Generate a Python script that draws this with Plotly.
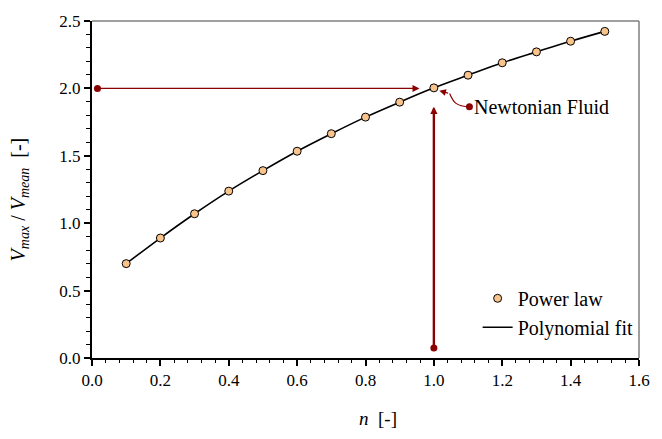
import plotly.graph_objects as go

# data
n_values = [0.1, 0.2, 0.3, 0.4, 0.5, 0.6, 0.7, 0.8, 0.9, 1.0, 1.1, 1.2, 1.3, 1.4, 1.5]
v_ratio = [0.70, 0.89, 1.07, 1.238, 1.39, 1.534, 1.664, 1.787, 1.898, 2.004, 2.098, 2.19, 2.271, 2.35, 2.423]

# annotation anchors (data coordinates)
h_arrow_tail = (0.016, 2.0)
h_arrow_head = (0.958, 2.0)
v_arrow_tail = (1.0, 0.075)
v_arrow_head = (1.0, 1.864)
newton_dot = (1.104, 1.864)
newton_head = (1.016, 1.982)
newton_label = "Newtonian Fluid"
x_title = "<i>n</i>&nbsp; [-]"
y_title = "<i>V</i><sub><i>max</i></sub> / <i>V</i><sub><i>mean</i></sub>&nbsp; [-]"

DARKRED = "#8B0000"
FONT = "Liberation Serif"

fig = go.Figure()

fig.add_trace(go.Scatter(
    x=n_values, y=v_ratio, mode="lines", name="Polynomial fit",
    line=dict(color="black", width=1.6, shape="spline"),
))
fig.add_trace(go.Scatter(
    x=n_values, y=v_ratio, mode="markers", name="Power law",
    marker=dict(size=8, color="#F9C48C", line=dict(color="black", width=1)),
))

# dots at arrow tails
fig.add_trace(go.Scatter(
    x=[h_arrow_tail[0], v_arrow_tail[0], newton_dot[0]],
    y=[h_arrow_tail[1], v_arrow_tail[1], newton_dot[1]],
    mode="markers", marker=dict(size=7, color=DARKRED), showlegend=False, hoverinfo="skip",
))

ann = []
ann.append(dict(x=h_arrow_head[0], y=h_arrow_head[1], ax=h_arrow_tail[0], ay=h_arrow_tail[1],
                xref="x", yref="y", axref="x", ayref="y", showarrow=True, arrowhead=2,
                arrowsize=1.0, arrowwidth=1.4, arrowcolor=DARKRED, text=""))
ann.append(dict(x=v_arrow_head[0], y=v_arrow_head[1], ax=v_arrow_tail[0], ay=v_arrow_tail[1],
                xref="x", yref="y", axref="x", ayref="y", showarrow=True, arrowhead=2,
                arrowsize=0.6, arrowwidth=2.4, arrowcolor=DARKRED, text=""))
# short arrow head for curved Newtonian arrow
ann.append(dict(x=newton_head[0], y=newton_head[1], ax=newton_head[0] + 0.03, ay=newton_head[1] - 0.02,
                xref="x", yref="y", axref="x", ayref="y", showarrow=True, arrowhead=2,
                arrowsize=1.1, arrowwidth=1.2, arrowcolor=DARKRED, text=""))
ann.append(dict(x=newton_dot[0], y=newton_dot[1], xref="x", yref="y", text=newton_label,
                showarrow=False, xanchor="left", yanchor="middle", xshift=3,
                font=dict(family=FONT, size=20, color="black")))
# axis titles
ann.append(dict(x=-0.132, y=0.47, xref="paper", yref="paper", text=y_title, textangle=-90,
                showarrow=False, xanchor="center", yanchor="middle",
                font=dict(family=FONT, size=20, color="black")))
ann.append(dict(x=0.523, y=-0.179, xref="paper", yref="paper", text=x_title,
                showarrow=False, xanchor="center", yanchor="middle",
                font=dict(family=FONT, size=19, color="black")))

shapes = []
# curved path from dot to arrow head
x0, y0 = newton_dot
x1, y1 = newton_head[0] + 0.03, newton_head[1] - 0.02
shapes.append(dict(type="path", xref="x", yref="y",
                   path=f"M {x0},{y0} C {x0-0.04},{y0} {x1+0.01},{y1-0.06} {x1},{y1}",
                   line=dict(color=DARKRED, width=1.2)))
# top and right frame in gray
shapes.append(dict(type="line", xref="paper", yref="paper", x0=0, x1=1, y0=1, y1=1,
                   line=dict(color="#7f7f7f", width=1.5)))
shapes.append(dict(type="line", xref="paper", yref="paper", x0=1, x1=1, y0=0, y1=1,
                   line=dict(color="#7f7f7f", width=1.5)))

fig.update_layout(
    width=662, height=439,
    margin=dict(l=92, r=14, t=12, b=81),
    paper_bgcolor="white", plot_bgcolor="white",
    font=dict(family=FONT, size=17, color="black"),
    annotations=ann, shapes=shapes,
    showlegend=True,
    legend=dict(x=0.705, y=0.235, xanchor="left", yanchor="top", bgcolor="rgba(0,0,0,0)",
                font=dict(family=FONT, size=20), itemwidth=30, tracegroupgap=0,
                traceorder="reversed"),
)
fig.update_xaxes(
    range=[0, 1.6], tickmode="linear", tick0=0, dtick=0.2, tickformat=".1f",
    showgrid=False, zeroline=False, showline=True, linecolor="black", linewidth=2,
    ticks="outside", ticklen=6, tickwidth=1.5, tickcolor="black",
    minor=dict(dtick=0.04, ticks="outside", ticklen=3, tickwidth=1, tickcolor="black", showgrid=False),
    tickfont=dict(family=FONT, size=17),
)
fig.update_yaxes(
    range=[0, 2.5], tickmode="linear", tick0=0, dtick=0.5, tickformat=".1f",
    showgrid=False, zeroline=False, showline=True, linecolor="black", linewidth=2,
    ticks="outside", ticklen=6, tickwidth=1.5, tickcolor="black",
    minor=dict(dtick=0.1, ticks="outside", ticklen=4, tickwidth=1, tickcolor="black", showgrid=False),
    tickfont=dict(family=FONT, size=17),
)

fig.write_html("out.html")
